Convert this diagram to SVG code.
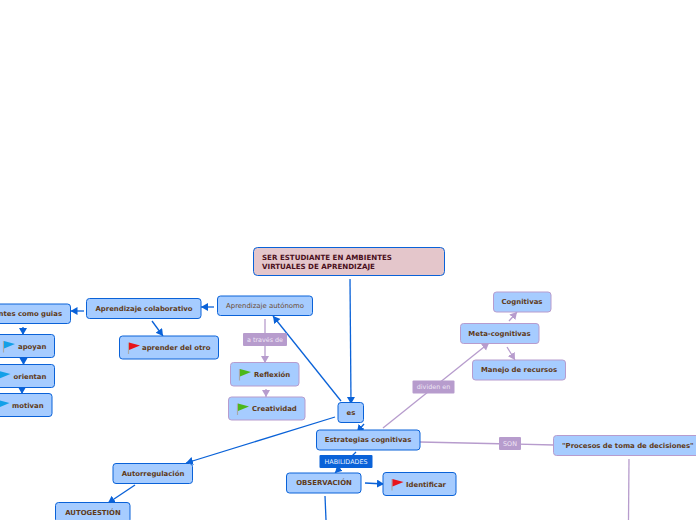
<svg xmlns="http://www.w3.org/2000/svg" width="696" height="520" viewBox="0 0 696 520">
<style>
text{font-family:"DejaVu Sans",sans-serif;font-size:6.9px;font-weight:bold;fill:#5f3a18;dominant-baseline:central}
.m{text-anchor:middle}
.b rect{fill:#a6ccff;stroke:#0a62d8;stroke-width:1}
.p rect{fill:#a6ccff;stroke:#b79cce;stroke-width:1}
.lb{fill:#b79ccd}
.lt{font-weight:normal;fill:#efe6f5;font-size:6.4px}
.cb{fill:none;stroke:#0a62d8;stroke-width:1.3}
.cp{fill:none;stroke:#b79ccd;stroke-width:1.3}
.pole{stroke:#a8a8a8;stroke-width:1.2}
</style>
<defs>
<marker id="ab" markerUnits="userSpaceOnUse" markerWidth="9" markerHeight="9" refX="7" refY="4" orient="auto"><path d="M0 0L7 4L0 8Z" fill="#0a62d8"/></marker>
<marker id="ap" markerUnits="userSpaceOnUse" markerWidth="9" markerHeight="9" refX="7" refY="4" orient="auto"><path d="M0 0L7 4L0 8Z" fill="#b79ccd"/></marker>
<g id="fr"><path class="pole" d="M0 0V11.500"/><path d="M0.500 0L11.500 3L0.500 7.500Z" fill="#e8141c"/></g>
<g id="fb"><path class="pole" d="M0 0V11.500"/><path d="M0.500 0L11.500 3L0.500 7.500Z" fill="#12a0e8"/></g>
<g id="fg"><path class="pole" d="M0 0V11.500"/><path d="M0.500 0L11.500 3L0.500 7.500Z" fill="#4cb81a"/></g>
</defs>
<g id="connectors">
<path class="cb" marker-end="url(#ab)" d="M350 279L351 404"/>
<path class="cb" marker-end="url(#ab)" d="M341 401L273 316"/>
<path class="cb" marker-end="url(#ab)" d="M214 307L201 307"/>
<path class="cb" marker-end="url(#ab)" d="M84 311L70.500 311"/>
<path class="cb" marker-end="url(#ab)" d="M152 321L163 336"/>
<path class="cb" marker-end="url(#ab)" d="M23 327L23 335"/>
<path class="cb" marker-end="url(#ab)" d="M23.500 358L23.500 365"/>
<path class="cb" marker-end="url(#ab)" d="M22 388L22 394"/>
<path class="cb" marker-end="url(#ab)" d="M335 417L186 463"/>
<path class="cb" marker-end="url(#ab)" d="M135 485L108 503"/>
<path class="cb" marker-end="url(#ab)" d="M364 424L357 432"/>
<path class="cb" marker-end="url(#ab)" d="M356 452L335 473"/>
<path class="cb" marker-end="url(#ab)" d="M365 483L384 484"/>
<path class="cb" d="M325 496L326 520"/>
<path class="cp" marker-end="url(#ap)" d="M265 319L265 363"/>
<path class="cp" marker-end="url(#ap)" d="M266 389L266 397"/>
<path class="cp" marker-end="url(#ap)" d="M383 428L489 343"/>
<path class="cp" marker-end="url(#ap)" d="M509 321L517 312"/>
<path class="cp" marker-end="url(#ap)" d="M507 347L515 360"/>
<path class="cp" d="M420 442L554 445"/>
<path class="cp" d="M629 459L628.500 520"/>
</g>
<g id="n-root"><rect x="253.500" y="247.500" width="191" height="28" rx="4" fill="#e4c6cb" stroke="#0a62d8"/><text x="262" y="257.500" style="fill:#4a0f1c;font-size:7.100px">SER ESTUDIANTE EN AMBIENTES</text><text x="262" y="266.500" style="fill:#4a0f1c;font-size:7.100px">VIRTUALES DE APRENDIZAJE</text></g>
<g id="n-autonomo" class="b"><rect x="217.500" y="296" width="95" height="19.500" rx="3"/><text class="m" x="265" y="306" style="font-weight:normal;fill:#6a4a30">Aprendizaje autónomo</text></g>
<g id="n-colab" class="b"><rect x="86.500" y="298.500" width="114.500" height="20" rx="3"/><text class="m" x="144" y="308.500">Aprendizaje colaborativo</text></g>
<g id="n-guias" class="b"><rect x="-20" y="304" width="90.500" height="19.500" rx="3"/><text x="62" y="313.500" text-anchor="end">ntes como guias</text></g>
<g id="n-otro" class="b"><rect x="119.500" y="336" width="99" height="23" rx="3"/><use href="#fr" x="128.500" y="342.500"/><text x="142" y="347.500">aprender del otro</text></g>
<g id="n-apoyan" class="b"><rect x="-20" y="334.500" width="74.500" height="23" rx="3"/><use href="#fb" x="3.500" y="341"/><text x="18" y="346.500">apoyan</text></g>
<g id="n-orientan" class="b"><rect x="-20" y="364.500" width="74.500" height="23" rx="3"/><use href="#fb" x="-1" y="371"/><text x="13.500" y="376.500">orientan</text></g>
<g id="n-motivan" class="b"><rect x="-20" y="393.500" width="72" height="23" rx="3"/><use href="#fb" x="-2" y="400"/><text x="12" y="405.500">motivan</text></g>
<g id="l-traves"><rect class="lb" x="243" y="333" width="44" height="13" rx="1"/><text class="m lt" x="265" y="339.500">a través de</text></g>
<g id="n-reflexion" class="p"><rect x="230.500" y="362.500" width="68.500" height="23.500" rx="3"/><use href="#fg" x="239.500" y="369"/><text x="254" y="374.500">Reflexión</text></g>
<g id="n-creatividad" class="p"><rect x="228.500" y="397" width="76.500" height="23" rx="3"/><use href="#fg" x="237.500" y="403.500"/><text x="252" y="409">Creatividad</text></g>
<g id="n-es" class="b"><rect x="338" y="402.500" width="25.500" height="20" rx="3"/><text class="m" x="351" y="412.500">es</text></g>
<g id="n-estrategias" class="b"><rect x="316.500" y="430" width="103.500" height="20" rx="3"/><text class="m" x="368" y="440">Estrategias cognitivas</text></g>
<g id="l-hab"><rect x="319.500" y="455" width="53" height="13" rx="1" fill="#0a62d8"/><text class="m" x="346" y="461.500" style="font-weight:normal;fill:#e6f0ff;font-size:6.400px">HABILIDADES</text></g>
<g id="n-obs" class="b"><rect x="286.500" y="473" width="74.500" height="20" rx="3"/><text class="m" x="324" y="483">OBSERVACIÓN</text></g>
<g id="n-ident" class="b"><rect x="383" y="472.500" width="73" height="23" rx="3"/><use href="#fr" x="392" y="479"/><text x="406" y="484.500">Identificar</text></g>
<g id="n-autorreg" class="b"><rect x="113" y="463.500" width="79.500" height="20" rx="3"/><text class="m" x="153" y="473.500">Autorregulación</text></g>
<g id="n-autog" class="b"><rect x="55.500" y="502.500" width="74.500" height="20" rx="3"/><text class="m" x="93" y="512.500">AUTOGESTIÓN</text></g>
<g id="l-dividen"><rect class="lb" x="412.500" y="380.500" width="42" height="13" rx="1"/><text class="m lt" x="433.500" y="387">dividen en</text></g>
<g id="n-cog" class="p"><rect x="493.500" y="292" width="57.500" height="20" rx="3"/><text class="m" x="522" y="302">Cognitivas</text></g>
<g id="n-meta" class="p"><rect x="460.500" y="323.500" width="78.500" height="20" rx="3"/><text class="m" x="499.500" y="334">Meta-cognitivas</text></g>
<g id="n-manejo" class="p"><rect x="472.500" y="360" width="93" height="20" rx="3"/><text class="m" x="519" y="370">Manejo de recursos</text></g>
<g id="l-son"><rect class="lb" x="499" y="437" width="22" height="13" rx="1"/><text class="m lt" x="510" y="443.500">SON</text></g>
<g id="n-procesos" class="p"><rect x="553.500" y="435.500" width="150" height="20" rx="3"/><text x="562" y="445.500">"Procesos de toma de decisiones"</text></g>
</svg>
